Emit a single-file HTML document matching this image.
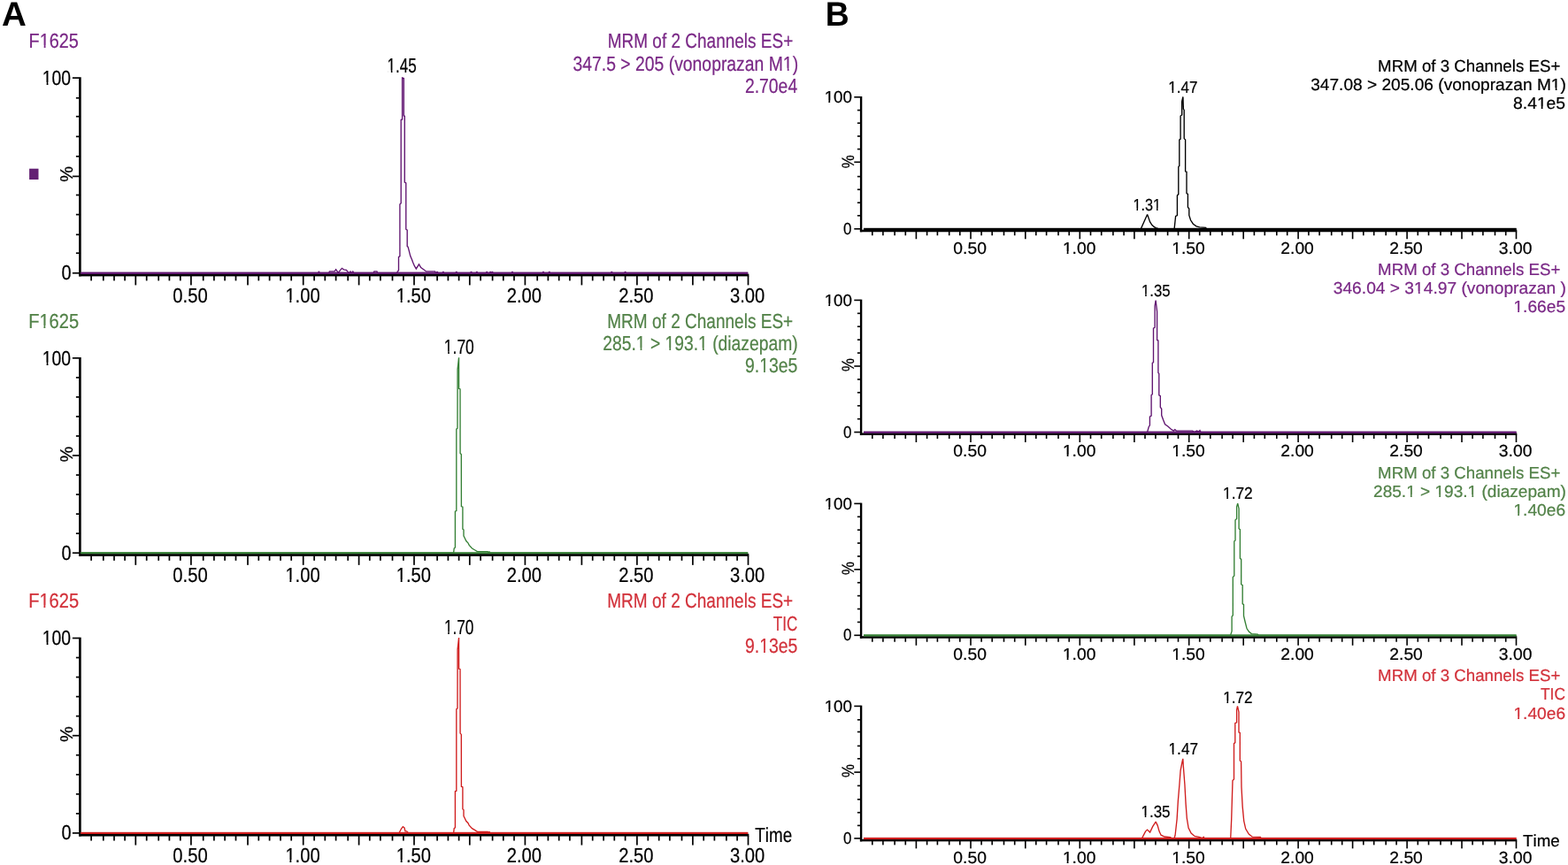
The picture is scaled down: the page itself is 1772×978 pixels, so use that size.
<!DOCTYPE html>
<html><head><meta charset="utf-8"><title>Chromatograms</title>
<style>
html,body{margin:0;padding:0;background:#fff;width:1772px;height:978px;overflow:hidden}
svg{display:block}
text{font-family:"Liberation Sans",Arial,sans-serif;font-kerning:none;white-space:pre;text-rendering:geometricPrecision}
</style></head><body>
<svg width="1772" height="978" viewBox="0 0 1772 978">
<rect width="100%" height="100%" fill="#fff"/>
<text x="1.9" y="29.3" font-size="38.5" font-weight="bold" fill="#000">A</text>
<text transform="translate(932.8,29.0) scale(0.97,1)" font-size="38.5" font-weight="bold" fill="#000">B</text>
<rect x="89.10" y="87.25" width="2.60" height="225.15" fill="#000"/>
<rect x="89.10" y="309.65" width="757.25" height="2.75" fill="#000"/>
<rect x="102.25" y="311.90" width="1.70" height="5.50" fill="#000"/>
<rect x="115.95" y="311.90" width="1.70" height="5.50" fill="#000"/>
<rect x="128.15" y="311.90" width="1.70" height="5.50" fill="#000"/>
<rect x="140.25" y="311.90" width="1.70" height="5.50" fill="#000"/>
<rect x="152.45" y="311.90" width="1.70" height="10.50" fill="#000"/>
<rect x="164.85" y="311.90" width="1.70" height="5.50" fill="#000"/>
<rect x="178.35" y="311.90" width="1.70" height="5.50" fill="#000"/>
<rect x="190.55" y="311.90" width="1.70" height="5.50" fill="#000"/>
<rect x="202.95" y="311.90" width="1.70" height="5.50" fill="#000"/>
<rect x="215.05" y="311.90" width="1.70" height="10.50" fill="#000"/>
<rect x="228.85" y="311.90" width="1.70" height="5.50" fill="#000"/>
<rect x="241.05" y="311.90" width="1.70" height="5.50" fill="#000"/>
<rect x="253.25" y="311.90" width="1.70" height="5.50" fill="#000"/>
<rect x="265.65" y="311.90" width="1.70" height="5.50" fill="#000"/>
<rect x="279.15" y="311.90" width="1.70" height="10.50" fill="#000"/>
<rect x="291.45" y="311.90" width="1.70" height="5.50" fill="#000"/>
<rect x="303.75" y="311.90" width="1.70" height="5.50" fill="#000"/>
<rect x="316.15" y="311.90" width="1.70" height="5.50" fill="#000"/>
<rect x="328.35" y="311.90" width="1.70" height="5.50" fill="#000"/>
<rect x="341.85" y="311.90" width="1.70" height="10.50" fill="#000"/>
<rect x="354.25" y="311.90" width="1.70" height="5.50" fill="#000"/>
<rect x="366.45" y="311.90" width="1.70" height="5.50" fill="#000"/>
<rect x="378.75" y="311.90" width="1.70" height="5.50" fill="#000"/>
<rect x="392.35" y="311.90" width="1.70" height="5.50" fill="#000"/>
<rect x="404.75" y="311.90" width="1.70" height="10.50" fill="#000"/>
<rect x="416.95" y="311.90" width="1.70" height="5.50" fill="#000"/>
<rect x="429.05" y="311.90" width="1.70" height="5.50" fill="#000"/>
<rect x="442.65" y="311.90" width="1.70" height="5.50" fill="#000"/>
<rect x="455.05" y="311.90" width="1.70" height="5.50" fill="#000"/>
<rect x="467.15" y="311.90" width="1.70" height="10.50" fill="#000"/>
<rect x="479.35" y="311.90" width="1.70" height="5.50" fill="#000"/>
<rect x="493.25" y="311.90" width="1.70" height="5.50" fill="#000"/>
<rect x="505.55" y="311.90" width="1.70" height="5.50" fill="#000"/>
<rect x="517.75" y="311.90" width="1.70" height="5.50" fill="#000"/>
<rect x="529.95" y="311.90" width="1.70" height="10.50" fill="#000"/>
<rect x="542.25" y="311.90" width="1.70" height="5.50" fill="#000"/>
<rect x="555.75" y="311.90" width="1.70" height="5.50" fill="#000"/>
<rect x="567.95" y="311.90" width="1.70" height="5.50" fill="#000"/>
<rect x="580.15" y="311.90" width="1.70" height="5.50" fill="#000"/>
<rect x="592.55" y="311.90" width="1.70" height="10.50" fill="#000"/>
<rect x="606.35" y="311.90" width="1.70" height="5.50" fill="#000"/>
<rect x="618.55" y="311.90" width="1.70" height="5.50" fill="#000"/>
<rect x="630.85" y="311.90" width="1.70" height="5.50" fill="#000"/>
<rect x="643.05" y="311.90" width="1.70" height="5.50" fill="#000"/>
<rect x="656.55" y="311.90" width="1.70" height="10.50" fill="#000"/>
<rect x="668.85" y="311.90" width="1.70" height="5.50" fill="#000"/>
<rect x="681.25" y="311.90" width="1.70" height="5.50" fill="#000"/>
<rect x="693.45" y="311.90" width="1.70" height="5.50" fill="#000"/>
<rect x="705.75" y="311.90" width="1.70" height="5.50" fill="#000"/>
<rect x="719.05" y="311.90" width="1.70" height="10.50" fill="#000"/>
<rect x="731.45" y="311.90" width="1.70" height="5.50" fill="#000"/>
<rect x="743.85" y="311.90" width="1.70" height="5.50" fill="#000"/>
<rect x="756.05" y="311.90" width="1.70" height="5.50" fill="#000"/>
<rect x="769.65" y="311.90" width="1.70" height="5.50" fill="#000"/>
<rect x="782.05" y="311.90" width="1.70" height="10.50" fill="#000"/>
<rect x="794.35" y="311.90" width="1.70" height="5.50" fill="#000"/>
<rect x="806.55" y="311.90" width="1.70" height="5.50" fill="#000"/>
<rect x="820.05" y="311.90" width="1.70" height="5.50" fill="#000"/>
<rect x="832.25" y="311.90" width="1.70" height="5.50" fill="#000"/>
<rect x="844.65" y="311.90" width="1.70" height="10.50" fill="#000"/>
<rect x="81.90" y="87.25" width="7.70" height="1.70" fill="#000"/>
<rect x="85.90" y="109.95" width="3.70" height="1.70" fill="#000"/>
<rect x="85.90" y="130.85" width="3.70" height="1.70" fill="#000"/>
<rect x="85.90" y="153.55" width="3.70" height="1.70" fill="#000"/>
<rect x="85.90" y="175.95" width="3.70" height="1.70" fill="#000"/>
<rect x="81.90" y="198.55" width="7.70" height="1.70" fill="#000"/>
<rect x="85.90" y="219.65" width="3.70" height="1.70" fill="#000"/>
<rect x="85.90" y="241.75" width="3.70" height="1.70" fill="#000"/>
<rect x="85.90" y="264.45" width="3.70" height="1.70" fill="#000"/>
<rect x="85.90" y="285.35" width="3.70" height="1.70" fill="#000"/>
<rect x="81.90" y="307.90" width="7.70" height="1.70" fill="#000"/>
<text transform="translate(195.36,341.70) scale(0.8700,1)" font-size="23.2" fill="#000" stroke="#000" stroke-width="0.22">0.50</text>
<text transform="translate(322.38,341.70) scale(0.8700,1)" font-size="23.2" fill="#000" stroke="#000" stroke-width="0.22">1.00</text>
<rect x="323.14" y="338.97" width="4.28" height="3.73" fill="#fff"/>
<rect x="329.29" y="338.97" width="4.12" height="3.73" fill="#fff"/>
<text transform="translate(447.68,341.70) scale(0.8700,1)" font-size="23.2" fill="#000" stroke="#000" stroke-width="0.22">1.50</text>
<rect x="448.44" y="338.97" width="4.28" height="3.73" fill="#fff"/>
<rect x="454.59" y="338.97" width="4.12" height="3.73" fill="#fff"/>
<text transform="translate(572.74,341.70) scale(0.8700,1)" font-size="23.2" fill="#000" stroke="#000" stroke-width="0.22">2.00</text>
<text transform="translate(699.24,341.70) scale(0.8700,1)" font-size="23.2" fill="#000" stroke="#000" stroke-width="0.22">2.50</text>
<text transform="translate(824.97,341.70) scale(0.8700,1)" font-size="23.2" fill="#000" stroke="#000" stroke-width="0.22">3.00</text>
<text transform="translate(82.00,196.80) rotate(-90) scale(1.0,1)" font-size="20.0" text-anchor="middle" fill="#000" stroke="#000" stroke-width="0.22">%</text>
<text transform="translate(47.82,95.80) scale(0.8353,1)" font-size="23.2" fill="#000" stroke="#000" stroke-width="0.22">100</text>
<rect x="48.55" y="93.07" width="4.11" height="3.73" fill="#fff"/>
<rect x="54.45" y="93.07" width="3.96" height="3.73" fill="#fff"/>
<text transform="translate(69.42,316.10) scale(0.8566,1)" font-size="23.2" fill="#000" stroke="#000" stroke-width="0.22">0</text>
<rect x="89.10" y="404.00" width="2.60" height="224.85" fill="#000"/>
<rect x="89.10" y="626.10" width="757.25" height="2.75" fill="#000"/>
<rect x="102.25" y="628.35" width="1.70" height="5.50" fill="#000"/>
<rect x="115.95" y="628.35" width="1.70" height="5.50" fill="#000"/>
<rect x="128.15" y="628.35" width="1.70" height="5.50" fill="#000"/>
<rect x="140.25" y="628.35" width="1.70" height="5.50" fill="#000"/>
<rect x="152.45" y="628.35" width="1.70" height="10.50" fill="#000"/>
<rect x="164.85" y="628.35" width="1.70" height="5.50" fill="#000"/>
<rect x="178.35" y="628.35" width="1.70" height="5.50" fill="#000"/>
<rect x="190.55" y="628.35" width="1.70" height="5.50" fill="#000"/>
<rect x="202.95" y="628.35" width="1.70" height="5.50" fill="#000"/>
<rect x="215.05" y="628.35" width="1.70" height="10.50" fill="#000"/>
<rect x="228.85" y="628.35" width="1.70" height="5.50" fill="#000"/>
<rect x="241.05" y="628.35" width="1.70" height="5.50" fill="#000"/>
<rect x="253.25" y="628.35" width="1.70" height="5.50" fill="#000"/>
<rect x="265.65" y="628.35" width="1.70" height="5.50" fill="#000"/>
<rect x="279.15" y="628.35" width="1.70" height="10.50" fill="#000"/>
<rect x="291.45" y="628.35" width="1.70" height="5.50" fill="#000"/>
<rect x="303.75" y="628.35" width="1.70" height="5.50" fill="#000"/>
<rect x="316.15" y="628.35" width="1.70" height="5.50" fill="#000"/>
<rect x="328.35" y="628.35" width="1.70" height="5.50" fill="#000"/>
<rect x="341.85" y="628.35" width="1.70" height="10.50" fill="#000"/>
<rect x="354.25" y="628.35" width="1.70" height="5.50" fill="#000"/>
<rect x="366.45" y="628.35" width="1.70" height="5.50" fill="#000"/>
<rect x="378.75" y="628.35" width="1.70" height="5.50" fill="#000"/>
<rect x="392.35" y="628.35" width="1.70" height="5.50" fill="#000"/>
<rect x="404.75" y="628.35" width="1.70" height="10.50" fill="#000"/>
<rect x="416.95" y="628.35" width="1.70" height="5.50" fill="#000"/>
<rect x="429.05" y="628.35" width="1.70" height="5.50" fill="#000"/>
<rect x="442.65" y="628.35" width="1.70" height="5.50" fill="#000"/>
<rect x="455.05" y="628.35" width="1.70" height="5.50" fill="#000"/>
<rect x="467.15" y="628.35" width="1.70" height="10.50" fill="#000"/>
<rect x="479.35" y="628.35" width="1.70" height="5.50" fill="#000"/>
<rect x="493.25" y="628.35" width="1.70" height="5.50" fill="#000"/>
<rect x="505.55" y="628.35" width="1.70" height="5.50" fill="#000"/>
<rect x="517.75" y="628.35" width="1.70" height="5.50" fill="#000"/>
<rect x="529.95" y="628.35" width="1.70" height="10.50" fill="#000"/>
<rect x="542.25" y="628.35" width="1.70" height="5.50" fill="#000"/>
<rect x="555.75" y="628.35" width="1.70" height="5.50" fill="#000"/>
<rect x="567.95" y="628.35" width="1.70" height="5.50" fill="#000"/>
<rect x="580.15" y="628.35" width="1.70" height="5.50" fill="#000"/>
<rect x="592.55" y="628.35" width="1.70" height="10.50" fill="#000"/>
<rect x="606.35" y="628.35" width="1.70" height="5.50" fill="#000"/>
<rect x="618.55" y="628.35" width="1.70" height="5.50" fill="#000"/>
<rect x="630.85" y="628.35" width="1.70" height="5.50" fill="#000"/>
<rect x="643.05" y="628.35" width="1.70" height="5.50" fill="#000"/>
<rect x="656.55" y="628.35" width="1.70" height="10.50" fill="#000"/>
<rect x="668.85" y="628.35" width="1.70" height="5.50" fill="#000"/>
<rect x="681.25" y="628.35" width="1.70" height="5.50" fill="#000"/>
<rect x="693.45" y="628.35" width="1.70" height="5.50" fill="#000"/>
<rect x="705.75" y="628.35" width="1.70" height="5.50" fill="#000"/>
<rect x="719.05" y="628.35" width="1.70" height="10.50" fill="#000"/>
<rect x="731.45" y="628.35" width="1.70" height="5.50" fill="#000"/>
<rect x="743.85" y="628.35" width="1.70" height="5.50" fill="#000"/>
<rect x="756.05" y="628.35" width="1.70" height="5.50" fill="#000"/>
<rect x="769.65" y="628.35" width="1.70" height="5.50" fill="#000"/>
<rect x="782.05" y="628.35" width="1.70" height="10.50" fill="#000"/>
<rect x="794.35" y="628.35" width="1.70" height="5.50" fill="#000"/>
<rect x="806.55" y="628.35" width="1.70" height="5.50" fill="#000"/>
<rect x="820.05" y="628.35" width="1.70" height="5.50" fill="#000"/>
<rect x="832.25" y="628.35" width="1.70" height="5.50" fill="#000"/>
<rect x="844.65" y="628.35" width="1.70" height="10.50" fill="#000"/>
<rect x="81.90" y="404.00" width="7.70" height="1.70" fill="#000"/>
<rect x="85.90" y="426.04" width="3.70" height="1.70" fill="#000"/>
<rect x="85.90" y="448.07" width="3.70" height="1.70" fill="#000"/>
<rect x="85.90" y="470.11" width="3.70" height="1.70" fill="#000"/>
<rect x="85.90" y="492.14" width="3.70" height="1.70" fill="#000"/>
<rect x="81.90" y="514.17" width="7.70" height="1.70" fill="#000"/>
<rect x="85.90" y="536.21" width="3.70" height="1.70" fill="#000"/>
<rect x="85.90" y="558.25" width="3.70" height="1.70" fill="#000"/>
<rect x="85.90" y="580.28" width="3.70" height="1.70" fill="#000"/>
<rect x="85.90" y="602.31" width="3.70" height="1.70" fill="#000"/>
<rect x="81.90" y="624.35" width="7.70" height="1.70" fill="#000"/>
<text transform="translate(195.36,658.15) scale(0.8700,1)" font-size="23.2" fill="#000" stroke="#000" stroke-width="0.22">0.50</text>
<text transform="translate(322.38,658.15) scale(0.8700,1)" font-size="23.2" fill="#000" stroke="#000" stroke-width="0.22">1.00</text>
<rect x="323.14" y="655.42" width="4.28" height="3.73" fill="#fff"/>
<rect x="329.29" y="655.42" width="4.12" height="3.73" fill="#fff"/>
<text transform="translate(447.68,658.15) scale(0.8700,1)" font-size="23.2" fill="#000" stroke="#000" stroke-width="0.22">1.50</text>
<rect x="448.44" y="655.42" width="4.28" height="3.73" fill="#fff"/>
<rect x="454.59" y="655.42" width="4.12" height="3.73" fill="#fff"/>
<text transform="translate(572.74,658.15) scale(0.8700,1)" font-size="23.2" fill="#000" stroke="#000" stroke-width="0.22">2.00</text>
<text transform="translate(699.24,658.15) scale(0.8700,1)" font-size="23.2" fill="#000" stroke="#000" stroke-width="0.22">2.50</text>
<text transform="translate(824.97,658.15) scale(0.8700,1)" font-size="23.2" fill="#000" stroke="#000" stroke-width="0.22">3.00</text>
<text transform="translate(82.00,513.55) rotate(-90) scale(1.0,1)" font-size="20.0" text-anchor="middle" fill="#000" stroke="#000" stroke-width="0.22">%</text>
<text transform="translate(47.82,412.55) scale(0.8353,1)" font-size="23.2" fill="#000" stroke="#000" stroke-width="0.22">100</text>
<rect x="48.55" y="409.82" width="4.11" height="3.73" fill="#fff"/>
<rect x="54.45" y="409.82" width="3.96" height="3.73" fill="#fff"/>
<text transform="translate(69.42,632.55) scale(0.8566,1)" font-size="23.2" fill="#000" stroke="#000" stroke-width="0.22">0</text>
<rect x="89.10" y="720.65" width="2.60" height="224.90" fill="#000"/>
<rect x="89.10" y="942.80" width="757.25" height="2.75" fill="#000"/>
<rect x="102.25" y="945.05" width="1.70" height="5.50" fill="#000"/>
<rect x="115.95" y="945.05" width="1.70" height="5.50" fill="#000"/>
<rect x="128.15" y="945.05" width="1.70" height="5.50" fill="#000"/>
<rect x="140.25" y="945.05" width="1.70" height="5.50" fill="#000"/>
<rect x="152.45" y="945.05" width="1.70" height="10.50" fill="#000"/>
<rect x="164.85" y="945.05" width="1.70" height="5.50" fill="#000"/>
<rect x="178.35" y="945.05" width="1.70" height="5.50" fill="#000"/>
<rect x="190.55" y="945.05" width="1.70" height="5.50" fill="#000"/>
<rect x="202.95" y="945.05" width="1.70" height="5.50" fill="#000"/>
<rect x="215.05" y="945.05" width="1.70" height="10.50" fill="#000"/>
<rect x="228.85" y="945.05" width="1.70" height="5.50" fill="#000"/>
<rect x="241.05" y="945.05" width="1.70" height="5.50" fill="#000"/>
<rect x="253.25" y="945.05" width="1.70" height="5.50" fill="#000"/>
<rect x="265.65" y="945.05" width="1.70" height="5.50" fill="#000"/>
<rect x="279.15" y="945.05" width="1.70" height="10.50" fill="#000"/>
<rect x="291.45" y="945.05" width="1.70" height="5.50" fill="#000"/>
<rect x="303.75" y="945.05" width="1.70" height="5.50" fill="#000"/>
<rect x="316.15" y="945.05" width="1.70" height="5.50" fill="#000"/>
<rect x="328.35" y="945.05" width="1.70" height="5.50" fill="#000"/>
<rect x="341.85" y="945.05" width="1.70" height="10.50" fill="#000"/>
<rect x="354.25" y="945.05" width="1.70" height="5.50" fill="#000"/>
<rect x="366.45" y="945.05" width="1.70" height="5.50" fill="#000"/>
<rect x="378.75" y="945.05" width="1.70" height="5.50" fill="#000"/>
<rect x="392.35" y="945.05" width="1.70" height="5.50" fill="#000"/>
<rect x="404.75" y="945.05" width="1.70" height="10.50" fill="#000"/>
<rect x="416.95" y="945.05" width="1.70" height="5.50" fill="#000"/>
<rect x="429.05" y="945.05" width="1.70" height="5.50" fill="#000"/>
<rect x="442.65" y="945.05" width="1.70" height="5.50" fill="#000"/>
<rect x="455.05" y="945.05" width="1.70" height="5.50" fill="#000"/>
<rect x="467.15" y="945.05" width="1.70" height="10.50" fill="#000"/>
<rect x="479.35" y="945.05" width="1.70" height="5.50" fill="#000"/>
<rect x="493.25" y="945.05" width="1.70" height="5.50" fill="#000"/>
<rect x="505.55" y="945.05" width="1.70" height="5.50" fill="#000"/>
<rect x="517.75" y="945.05" width="1.70" height="5.50" fill="#000"/>
<rect x="529.95" y="945.05" width="1.70" height="10.50" fill="#000"/>
<rect x="542.25" y="945.05" width="1.70" height="5.50" fill="#000"/>
<rect x="555.75" y="945.05" width="1.70" height="5.50" fill="#000"/>
<rect x="567.95" y="945.05" width="1.70" height="5.50" fill="#000"/>
<rect x="580.15" y="945.05" width="1.70" height="5.50" fill="#000"/>
<rect x="592.55" y="945.05" width="1.70" height="10.50" fill="#000"/>
<rect x="606.35" y="945.05" width="1.70" height="5.50" fill="#000"/>
<rect x="618.55" y="945.05" width="1.70" height="5.50" fill="#000"/>
<rect x="630.85" y="945.05" width="1.70" height="5.50" fill="#000"/>
<rect x="643.05" y="945.05" width="1.70" height="5.50" fill="#000"/>
<rect x="656.55" y="945.05" width="1.70" height="10.50" fill="#000"/>
<rect x="668.85" y="945.05" width="1.70" height="5.50" fill="#000"/>
<rect x="681.25" y="945.05" width="1.70" height="5.50" fill="#000"/>
<rect x="693.45" y="945.05" width="1.70" height="5.50" fill="#000"/>
<rect x="705.75" y="945.05" width="1.70" height="5.50" fill="#000"/>
<rect x="719.05" y="945.05" width="1.70" height="10.50" fill="#000"/>
<rect x="731.45" y="945.05" width="1.70" height="5.50" fill="#000"/>
<rect x="743.85" y="945.05" width="1.70" height="5.50" fill="#000"/>
<rect x="756.05" y="945.05" width="1.70" height="5.50" fill="#000"/>
<rect x="769.65" y="945.05" width="1.70" height="5.50" fill="#000"/>
<rect x="782.05" y="945.05" width="1.70" height="10.50" fill="#000"/>
<rect x="794.35" y="945.05" width="1.70" height="5.50" fill="#000"/>
<rect x="806.55" y="945.05" width="1.70" height="5.50" fill="#000"/>
<rect x="820.05" y="945.05" width="1.70" height="5.50" fill="#000"/>
<rect x="832.25" y="945.05" width="1.70" height="5.50" fill="#000"/>
<rect x="844.65" y="945.05" width="1.70" height="10.50" fill="#000"/>
<rect x="81.90" y="720.65" width="7.70" height="1.70" fill="#000"/>
<rect x="85.90" y="742.69" width="3.70" height="1.70" fill="#000"/>
<rect x="85.90" y="764.73" width="3.70" height="1.70" fill="#000"/>
<rect x="85.90" y="786.77" width="3.70" height="1.70" fill="#000"/>
<rect x="85.90" y="808.81" width="3.70" height="1.70" fill="#000"/>
<rect x="81.90" y="830.85" width="7.70" height="1.70" fill="#000"/>
<rect x="85.90" y="852.89" width="3.70" height="1.70" fill="#000"/>
<rect x="85.90" y="874.93" width="3.70" height="1.70" fill="#000"/>
<rect x="85.90" y="896.97" width="3.70" height="1.70" fill="#000"/>
<rect x="85.90" y="919.01" width="3.70" height="1.70" fill="#000"/>
<rect x="81.90" y="941.05" width="7.70" height="1.70" fill="#000"/>
<text transform="translate(195.36,974.85) scale(0.8700,1)" font-size="23.2" fill="#000" stroke="#000" stroke-width="0.22">0.50</text>
<text transform="translate(322.38,974.85) scale(0.8700,1)" font-size="23.2" fill="#000" stroke="#000" stroke-width="0.22">1.00</text>
<rect x="323.14" y="972.12" width="4.28" height="3.73" fill="#fff"/>
<rect x="329.29" y="972.12" width="4.12" height="3.73" fill="#fff"/>
<text transform="translate(447.68,974.85) scale(0.8700,1)" font-size="23.2" fill="#000" stroke="#000" stroke-width="0.22">1.50</text>
<rect x="448.44" y="972.12" width="4.28" height="3.73" fill="#fff"/>
<rect x="454.59" y="972.12" width="4.12" height="3.73" fill="#fff"/>
<text transform="translate(572.74,974.85) scale(0.8700,1)" font-size="23.2" fill="#000" stroke="#000" stroke-width="0.22">2.00</text>
<text transform="translate(699.24,974.85) scale(0.8700,1)" font-size="23.2" fill="#000" stroke="#000" stroke-width="0.22">2.50</text>
<text transform="translate(824.97,974.85) scale(0.8700,1)" font-size="23.2" fill="#000" stroke="#000" stroke-width="0.22">3.00</text>
<text transform="translate(82.00,830.20) rotate(-90) scale(1.0,1)" font-size="20.0" text-anchor="middle" fill="#000" stroke="#000" stroke-width="0.22">%</text>
<text transform="translate(47.82,729.20) scale(0.8353,1)" font-size="23.2" fill="#000" stroke="#000" stroke-width="0.22">100</text>
<rect x="48.55" y="726.47" width="4.11" height="3.73" fill="#fff"/>
<rect x="54.45" y="726.47" width="3.96" height="3.73" fill="#fff"/>
<text transform="translate(69.42,949.25) scale(0.8566,1)" font-size="23.2" fill="#000" stroke="#000" stroke-width="0.22">0</text>
<text transform="translate(32.57,54.10) scale(0.8568,1)" font-size="23.2" fill="#7a2886" stroke="#7a2886" stroke-width="0.22">F1625</text>
<rect x="45.46" y="51.37" width="4.21" height="3.73" fill="#fff"/>
<rect x="51.51" y="51.37" width="4.06" height="3.73" fill="#fff"/>
<text transform="translate(686.74,54.10) scale(0.8189,1)" font-size="23.2" fill="#7a2886" stroke="#7a2886" stroke-width="0.22">MRM of 2 Channels ES+</text>
<text transform="translate(647.46,79.60) scale(0.8352,1)" font-size="23.2" fill="#7a2886" stroke="#7a2886" stroke-width="0.22">347.5 &gt; 205 (vonoprazan M1)</text>
<rect x="885.70" y="76.87" width="4.11" height="3.73" fill="#fff"/>
<rect x="891.60" y="76.87" width="3.95" height="3.73" fill="#fff"/>
<text transform="translate(841.93,105.40) scale(0.8349,1)" font-size="23.2" fill="#7a2886" stroke="#7a2886" stroke-width="0.22">2.70e4</text>
<text transform="translate(437.60,82.30) scale(0.7333,1)" font-size="23.2" fill="#000" stroke="#000" stroke-width="0.22">1.45</text>
<rect x="438.24" y="79.57" width="3.61" height="3.73" fill="#fff"/>
<rect x="443.42" y="79.57" width="3.47" height="3.73" fill="#fff"/>
<rect x="33.10" y="190.70" width="10.40" height="12.30" fill="#632073"/>
<text transform="translate(32.15,370.70) scale(0.8664,1)" font-size="23.2" fill="#528248" stroke="#528248" stroke-width="0.22">F1625</text>
<rect x="45.18" y="367.97" width="4.26" height="3.73" fill="#fff"/>
<rect x="51.30" y="367.97" width="4.10" height="3.73" fill="#fff"/>
<text transform="translate(686.24,370.70) scale(0.8208,1)" font-size="23.2" fill="#528248" stroke="#528248" stroke-width="0.22">MRM of 2 Channels ES+</text>
<text transform="translate(681.23,396.10) scale(0.8322,1)" font-size="23.2" fill="#528248" stroke="#528248" stroke-width="0.22">285.1 &gt; 193.1 (diazepam)</text>
<rect x="719.53" y="393.37" width="4.09" height="3.73" fill="#fff"/>
<rect x="725.41" y="393.37" width="3.94" height="3.73" fill="#fff"/>
<rect x="752.27" y="393.37" width="4.09" height="3.73" fill="#fff"/>
<rect x="758.15" y="393.37" width="3.94" height="3.73" fill="#fff"/>
<rect x="789.84" y="393.37" width="4.09" height="3.73" fill="#fff"/>
<rect x="795.73" y="393.37" width="3.94" height="3.73" fill="#fff"/>
<text transform="translate(841.99,421.30) scale(0.8375,1)" font-size="23.2" fill="#528248" stroke="#528248" stroke-width="0.22">9.13e5</text>
<rect x="858.92" y="418.57" width="4.12" height="3.73" fill="#fff"/>
<rect x="864.84" y="418.57" width="3.97" height="3.73" fill="#fff"/>
<text transform="translate(501.87,399.70) scale(0.7509,1)" font-size="23.2" fill="#000" stroke="#000" stroke-width="0.22">1.70</text>
<rect x="502.52" y="396.97" width="3.69" height="3.73" fill="#fff"/>
<rect x="507.83" y="396.97" width="3.56" height="3.73" fill="#fff"/>
<text transform="translate(32.15,687.20) scale(0.8664,1)" font-size="23.2" fill="#d2313a" stroke="#d2313a" stroke-width="0.22">F1625</text>
<rect x="45.18" y="684.47" width="4.26" height="3.73" fill="#fff"/>
<rect x="51.30" y="684.47" width="4.10" height="3.73" fill="#fff"/>
<text transform="translate(686.24,687.30) scale(0.8208,1)" font-size="23.2" fill="#d2313a" stroke="#d2313a" stroke-width="0.22">MRM of 2 Channels ES+</text>
<text transform="translate(873.82,712.70) scale(0.7340,1)" font-size="23.2" fill="#d2313a" stroke="#d2313a" stroke-width="0.22">TIC</text>
<text transform="translate(841.99,738.00) scale(0.8375,1)" font-size="23.2" fill="#d2313a" stroke="#d2313a" stroke-width="0.22">9.13e5</text>
<rect x="858.92" y="735.27" width="4.12" height="3.73" fill="#fff"/>
<rect x="864.84" y="735.27" width="3.97" height="3.73" fill="#fff"/>
<text transform="translate(501.89,716.50) scale(0.7439,1)" font-size="23.2" fill="#000" stroke="#000" stroke-width="0.22">1.70</text>
<rect x="502.53" y="713.77" width="3.66" height="3.73" fill="#fff"/>
<rect x="507.79" y="713.77" width="3.52" height="3.73" fill="#fff"/>
<text transform="translate(853.28,952.40) scale(0.8120,1)" font-size="23.2" fill="#000" stroke="#000" stroke-width="0.22">Time</text>
<rect x="91.70" y="307.55" width="753.60" height="2.30" fill="#601470"/>
<rect x="91.70" y="624.20" width="753.60" height="2.00" fill="#358035"/>
<rect x="91.70" y="940.80" width="753.60" height="2.20" fill="#d01e1e"/>
<polyline points="90.80,308.90 359.00,308.90 359.60,308.90 360.40,306.80 361.20,308.90 371.60,308.90 372.40,306.80 378.00,306.80 379.60,304.60 382.30,308.40 384.20,305.80 386.40,303.30 388.60,304.90 391.50,305.40 393.30,307.60 394.60,308.90 396.00,307.00 397.20,308.90 398.80,307.00 400.00,308.90 422.00,308.90 422.80,306.90 426.00,306.90 426.80,308.90 447.80,308.90 448.80,307.90 450.50,305.50 450.50,290.60 451.90,289.60 451.90,231.00 453.20,229.70 453.20,135.50 454.60,135.00 454.60,88.00 456.30,88.50 456.30,131.00 457.30,131.20 457.30,206.10 458.80,207.00 458.80,259.20 460.20,260.10 460.20,278.50 461.10,279.20 462.40,284.20 463.70,289.30 465.60,293.70 466.80,296.90 468.40,300.70 470.30,303.90 473.50,298.80 475.70,302.60 479.50,305.20 481.60,306.90 491.60,306.90 492.60,308.90 492.60,308.90 493.20,308.90 494.10,307.00 495.00,308.90 500.00,308.90 500.90,307.00 501.80,308.90 514.90,308.90 515.80,307.00 516.70,308.90 531.60,308.90 532.50,307.00 533.40,308.90 538.00,308.90 538.90,307.00 539.80,308.90 549.30,308.90 550.20,307.00 551.10,308.90 553.30,308.90 554.20,307.00 555.10,308.90 555.50,308.90 556.40,307.00 557.30,308.90 578.10,308.90 579.00,307.00 579.90,308.90 613.10,308.90 614.00,307.00 614.90,308.90 619.90,308.90 620.80,307.00 621.70,308.90 690.40,308.90 691.30,307.00 692.20,308.90 705.70,308.90 706.60,307.00 707.50,308.90 845.20,308.90" fill="none" stroke="#601470" stroke-width="1.35" stroke-linejoin="miter" stroke-miterlimit="2" stroke-linecap="butt"/>
<polyline points="90.80,625.20 512.00,625.20 512.60,625.20 513.20,620.00 514.40,619.00 514.40,578.10 515.80,577.50 515.80,485.10 517.00,484.20 517.10,417.50 518.55,404.30 518.60,439.30 520.00,439.90 520.10,512.40 521.30,513.70 521.40,572.50 522.90,573.20 522.90,598.10 524.00,599.00 524.00,605.90 525.30,608.50 526.90,611.80 528.90,613.80 530.20,616.40 533.50,620.00 536.80,622.00 539.40,623.60 551.20,623.60 552.10,625.20 553.00,623.60 553.90,625.20 554.00,625.20 845.20,625.20" fill="none" stroke="#358035" stroke-width="1.35" stroke-linejoin="miter" stroke-miterlimit="2" stroke-linecap="butt"/>
<polyline points="90.80,941.90 451.00,941.90 451.00,941.90 453.50,937.00 455.30,934.60 457.00,936.00 458.00,939.80 459.70,939.80 461.60,941.90 512.00,941.90 512.60,941.90 513.20,936.70 514.40,935.70 514.40,894.80 515.80,894.20 515.80,801.80 517.00,800.90 517.10,734.20 518.55,721.00 518.60,756.00 520.00,756.60 520.10,829.10 521.30,830.40 521.40,889.20 522.90,889.90 522.90,914.80 524.00,915.70 524.00,922.60 525.30,925.20 526.90,928.50 528.90,930.50 530.20,933.10 533.50,936.70 536.80,938.70 539.40,940.30 551.20,940.30 552.10,941.90 553.00,940.30 553.90,941.90 554.00,941.90 845.20,941.90" fill="none" stroke="#d01e1e" stroke-width="1.35" stroke-linejoin="miter" stroke-miterlimit="2" stroke-linecap="butt"/>
<rect x="971.90" y="109.00" width="2.40" height="153.25" fill="#000"/>
<rect x="971.90" y="259.70" width="742.40" height="2.55" fill="#000"/>
<rect x="985.00" y="261.75" width="1.60" height="4.50" fill="#000"/>
<rect x="997.10" y="261.75" width="1.60" height="4.50" fill="#000"/>
<rect x="1010.30" y="261.75" width="1.60" height="4.50" fill="#000"/>
<rect x="1022.50" y="261.75" width="1.60" height="4.50" fill="#000"/>
<rect x="1034.60" y="261.75" width="1.60" height="8.50" fill="#000"/>
<rect x="1046.80" y="261.75" width="1.60" height="4.50" fill="#000"/>
<rect x="1058.60" y="261.75" width="1.60" height="4.50" fill="#000"/>
<rect x="1071.90" y="261.75" width="1.60" height="4.50" fill="#000"/>
<rect x="1084.00" y="261.75" width="1.60" height="4.50" fill="#000"/>
<rect x="1096.20" y="261.75" width="1.60" height="8.50" fill="#000"/>
<rect x="1108.30" y="261.75" width="1.60" height="4.50" fill="#000"/>
<rect x="1120.40" y="261.75" width="1.60" height="4.50" fill="#000"/>
<rect x="1133.70" y="261.75" width="1.60" height="4.50" fill="#000"/>
<rect x="1145.90" y="261.75" width="1.60" height="4.50" fill="#000"/>
<rect x="1158.00" y="261.75" width="1.60" height="8.50" fill="#000"/>
<rect x="1170.00" y="261.75" width="1.60" height="4.50" fill="#000"/>
<rect x="1181.80" y="261.75" width="1.60" height="4.50" fill="#000"/>
<rect x="1195.20" y="261.75" width="1.60" height="4.50" fill="#000"/>
<rect x="1207.40" y="261.75" width="1.60" height="4.50" fill="#000"/>
<rect x="1219.50" y="261.75" width="1.60" height="8.50" fill="#000"/>
<rect x="1231.70" y="261.75" width="1.60" height="4.50" fill="#000"/>
<rect x="1243.90" y="261.75" width="1.60" height="4.50" fill="#000"/>
<rect x="1257.10" y="261.75" width="1.60" height="4.50" fill="#000"/>
<rect x="1269.30" y="261.75" width="1.60" height="4.50" fill="#000"/>
<rect x="1281.10" y="261.75" width="1.60" height="8.50" fill="#000"/>
<rect x="1293.20" y="261.75" width="1.60" height="4.50" fill="#000"/>
<rect x="1305.10" y="261.75" width="1.60" height="4.50" fill="#000"/>
<rect x="1318.80" y="261.75" width="1.60" height="4.50" fill="#000"/>
<rect x="1330.70" y="261.75" width="1.60" height="4.50" fill="#000"/>
<rect x="1342.90" y="261.75" width="1.60" height="8.50" fill="#000"/>
<rect x="1354.90" y="261.75" width="1.60" height="4.50" fill="#000"/>
<rect x="1367.00" y="261.75" width="1.60" height="4.50" fill="#000"/>
<rect x="1380.30" y="261.75" width="1.60" height="4.50" fill="#000"/>
<rect x="1392.30" y="261.75" width="1.60" height="4.50" fill="#000"/>
<rect x="1404.40" y="261.75" width="1.60" height="8.50" fill="#000"/>
<rect x="1416.60" y="261.75" width="1.60" height="4.50" fill="#000"/>
<rect x="1428.50" y="261.75" width="1.60" height="4.50" fill="#000"/>
<rect x="1442.00" y="261.75" width="1.60" height="4.50" fill="#000"/>
<rect x="1453.90" y="261.75" width="1.60" height="4.50" fill="#000"/>
<rect x="1466.30" y="261.75" width="1.60" height="8.50" fill="#000"/>
<rect x="1478.10" y="261.75" width="1.60" height="4.50" fill="#000"/>
<rect x="1490.30" y="261.75" width="1.60" height="4.50" fill="#000"/>
<rect x="1503.90" y="261.75" width="1.60" height="4.50" fill="#000"/>
<rect x="1515.90" y="261.75" width="1.60" height="4.50" fill="#000"/>
<rect x="1527.80" y="261.75" width="1.60" height="8.50" fill="#000"/>
<rect x="1540.00" y="261.75" width="1.60" height="4.50" fill="#000"/>
<rect x="1551.90" y="261.75" width="1.60" height="4.50" fill="#000"/>
<rect x="1565.40" y="261.75" width="1.60" height="4.50" fill="#000"/>
<rect x="1577.30" y="261.75" width="1.60" height="4.50" fill="#000"/>
<rect x="1589.30" y="261.75" width="1.60" height="8.50" fill="#000"/>
<rect x="1601.50" y="261.75" width="1.60" height="4.50" fill="#000"/>
<rect x="1613.70" y="261.75" width="1.60" height="4.50" fill="#000"/>
<rect x="1627.20" y="261.75" width="1.60" height="4.50" fill="#000"/>
<rect x="1639.30" y="261.75" width="1.60" height="4.50" fill="#000"/>
<rect x="1651.20" y="261.75" width="1.60" height="8.50" fill="#000"/>
<rect x="1663.30" y="261.75" width="1.60" height="4.50" fill="#000"/>
<rect x="1675.10" y="261.75" width="1.60" height="4.50" fill="#000"/>
<rect x="1688.70" y="261.75" width="1.60" height="4.50" fill="#000"/>
<rect x="1700.90" y="261.75" width="1.60" height="4.50" fill="#000"/>
<rect x="1712.70" y="261.75" width="1.60" height="8.50" fill="#000"/>
<rect x="965.30" y="109.00" width="7.10" height="1.60" fill="#000"/>
<rect x="968.90" y="123.80" width="3.50" height="1.60" fill="#000"/>
<rect x="968.90" y="138.40" width="3.50" height="1.60" fill="#000"/>
<rect x="968.90" y="153.20" width="3.50" height="1.60" fill="#000"/>
<rect x="968.90" y="167.80" width="3.50" height="1.60" fill="#000"/>
<rect x="965.30" y="182.50" width="7.10" height="1.60" fill="#000"/>
<rect x="968.90" y="198.80" width="3.50" height="1.60" fill="#000"/>
<rect x="968.90" y="213.50" width="3.50" height="1.60" fill="#000"/>
<rect x="968.90" y="228.40" width="3.50" height="1.60" fill="#000"/>
<rect x="968.90" y="243.00" width="3.50" height="1.60" fill="#000"/>
<rect x="965.30" y="258.00" width="7.10" height="1.60" fill="#000"/>
<text transform="translate(1077.34,286.60) scale(1.0200,1)" font-size="18.9" fill="#000" stroke="#000" stroke-width="0.22">0.50</text>
<text transform="translate(1200.88,286.60) scale(1.0200,1)" font-size="18.9" fill="#000" stroke="#000" stroke-width="0.22">1.00</text>
<rect x="1201.43" y="284.19" width="4.25" height="3.41" fill="#fff"/>
<rect x="1207.48" y="284.19" width="4.10" height="3.41" fill="#fff"/>
<text transform="translate(1324.28,286.60) scale(1.0200,1)" font-size="18.9" fill="#000" stroke="#000" stroke-width="0.22">1.50</text>
<rect x="1324.83" y="284.19" width="4.25" height="3.41" fill="#fff"/>
<rect x="1330.88" y="284.19" width="4.10" height="3.41" fill="#fff"/>
<text transform="translate(1447.33,286.60) scale(1.0200,1)" font-size="18.9" fill="#000" stroke="#000" stroke-width="0.22">2.00</text>
<text transform="translate(1570.33,286.60) scale(1.0200,1)" font-size="18.9" fill="#000" stroke="#000" stroke-width="0.22">2.50</text>
<text transform="translate(1693.85,286.60) scale(1.0200,1)" font-size="18.9" fill="#000" stroke="#000" stroke-width="0.22">3.00</text>
<text transform="translate(964.80,182.90) rotate(-90) scale(0.86,1)" font-size="19.5" text-anchor="middle" fill="#000" stroke="#000" stroke-width="0.22">%</text>
<text transform="translate(931.67,116.00) scale(0.9947,1)" font-size="18.9" fill="#000" stroke="#000" stroke-width="0.22">100</text>
<rect x="932.20" y="113.59" width="4.14" height="3.41" fill="#fff"/>
<rect x="938.11" y="113.59" width="3.99" height="3.41" fill="#fff"/>
<text transform="translate(952.94,264.80) scale(0.8965,1)" font-size="18.9" fill="#000" stroke="#000" stroke-width="0.22">0</text>
<rect x="971.90" y="338.60" width="2.40" height="153.45" fill="#000"/>
<rect x="971.90" y="489.50" width="742.40" height="2.55" fill="#000"/>
<rect x="985.00" y="491.55" width="1.60" height="4.50" fill="#000"/>
<rect x="997.10" y="491.55" width="1.60" height="4.50" fill="#000"/>
<rect x="1010.30" y="491.55" width="1.60" height="4.50" fill="#000"/>
<rect x="1022.50" y="491.55" width="1.60" height="4.50" fill="#000"/>
<rect x="1034.60" y="491.55" width="1.60" height="8.50" fill="#000"/>
<rect x="1046.80" y="491.55" width="1.60" height="4.50" fill="#000"/>
<rect x="1058.60" y="491.55" width="1.60" height="4.50" fill="#000"/>
<rect x="1071.90" y="491.55" width="1.60" height="4.50" fill="#000"/>
<rect x="1084.00" y="491.55" width="1.60" height="4.50" fill="#000"/>
<rect x="1096.20" y="491.55" width="1.60" height="8.50" fill="#000"/>
<rect x="1108.30" y="491.55" width="1.60" height="4.50" fill="#000"/>
<rect x="1120.40" y="491.55" width="1.60" height="4.50" fill="#000"/>
<rect x="1133.70" y="491.55" width="1.60" height="4.50" fill="#000"/>
<rect x="1145.90" y="491.55" width="1.60" height="4.50" fill="#000"/>
<rect x="1158.00" y="491.55" width="1.60" height="8.50" fill="#000"/>
<rect x="1170.00" y="491.55" width="1.60" height="4.50" fill="#000"/>
<rect x="1181.80" y="491.55" width="1.60" height="4.50" fill="#000"/>
<rect x="1195.20" y="491.55" width="1.60" height="4.50" fill="#000"/>
<rect x="1207.40" y="491.55" width="1.60" height="4.50" fill="#000"/>
<rect x="1219.50" y="491.55" width="1.60" height="8.50" fill="#000"/>
<rect x="1231.70" y="491.55" width="1.60" height="4.50" fill="#000"/>
<rect x="1243.90" y="491.55" width="1.60" height="4.50" fill="#000"/>
<rect x="1257.10" y="491.55" width="1.60" height="4.50" fill="#000"/>
<rect x="1269.30" y="491.55" width="1.60" height="4.50" fill="#000"/>
<rect x="1281.10" y="491.55" width="1.60" height="8.50" fill="#000"/>
<rect x="1293.20" y="491.55" width="1.60" height="4.50" fill="#000"/>
<rect x="1305.10" y="491.55" width="1.60" height="4.50" fill="#000"/>
<rect x="1318.80" y="491.55" width="1.60" height="4.50" fill="#000"/>
<rect x="1330.70" y="491.55" width="1.60" height="4.50" fill="#000"/>
<rect x="1342.90" y="491.55" width="1.60" height="8.50" fill="#000"/>
<rect x="1354.90" y="491.55" width="1.60" height="4.50" fill="#000"/>
<rect x="1367.00" y="491.55" width="1.60" height="4.50" fill="#000"/>
<rect x="1380.30" y="491.55" width="1.60" height="4.50" fill="#000"/>
<rect x="1392.30" y="491.55" width="1.60" height="4.50" fill="#000"/>
<rect x="1404.40" y="491.55" width="1.60" height="8.50" fill="#000"/>
<rect x="1416.60" y="491.55" width="1.60" height="4.50" fill="#000"/>
<rect x="1428.50" y="491.55" width="1.60" height="4.50" fill="#000"/>
<rect x="1442.00" y="491.55" width="1.60" height="4.50" fill="#000"/>
<rect x="1453.90" y="491.55" width="1.60" height="4.50" fill="#000"/>
<rect x="1466.30" y="491.55" width="1.60" height="8.50" fill="#000"/>
<rect x="1478.10" y="491.55" width="1.60" height="4.50" fill="#000"/>
<rect x="1490.30" y="491.55" width="1.60" height="4.50" fill="#000"/>
<rect x="1503.90" y="491.55" width="1.60" height="4.50" fill="#000"/>
<rect x="1515.90" y="491.55" width="1.60" height="4.50" fill="#000"/>
<rect x="1527.80" y="491.55" width="1.60" height="8.50" fill="#000"/>
<rect x="1540.00" y="491.55" width="1.60" height="4.50" fill="#000"/>
<rect x="1551.90" y="491.55" width="1.60" height="4.50" fill="#000"/>
<rect x="1565.40" y="491.55" width="1.60" height="4.50" fill="#000"/>
<rect x="1577.30" y="491.55" width="1.60" height="4.50" fill="#000"/>
<rect x="1589.30" y="491.55" width="1.60" height="8.50" fill="#000"/>
<rect x="1601.50" y="491.55" width="1.60" height="4.50" fill="#000"/>
<rect x="1613.70" y="491.55" width="1.60" height="4.50" fill="#000"/>
<rect x="1627.20" y="491.55" width="1.60" height="4.50" fill="#000"/>
<rect x="1639.30" y="491.55" width="1.60" height="4.50" fill="#000"/>
<rect x="1651.20" y="491.55" width="1.60" height="8.50" fill="#000"/>
<rect x="1663.30" y="491.55" width="1.60" height="4.50" fill="#000"/>
<rect x="1675.10" y="491.55" width="1.60" height="4.50" fill="#000"/>
<rect x="1688.70" y="491.55" width="1.60" height="4.50" fill="#000"/>
<rect x="1700.90" y="491.55" width="1.60" height="4.50" fill="#000"/>
<rect x="1712.70" y="491.55" width="1.60" height="8.50" fill="#000"/>
<rect x="965.30" y="338.60" width="7.10" height="1.60" fill="#000"/>
<rect x="968.90" y="353.52" width="3.50" height="1.60" fill="#000"/>
<rect x="968.90" y="368.44" width="3.50" height="1.60" fill="#000"/>
<rect x="968.90" y="383.36" width="3.50" height="1.60" fill="#000"/>
<rect x="968.90" y="398.28" width="3.50" height="1.60" fill="#000"/>
<rect x="965.30" y="413.20" width="7.10" height="1.60" fill="#000"/>
<rect x="968.90" y="428.12" width="3.50" height="1.60" fill="#000"/>
<rect x="968.90" y="443.04" width="3.50" height="1.60" fill="#000"/>
<rect x="968.90" y="457.96" width="3.50" height="1.60" fill="#000"/>
<rect x="968.90" y="472.88" width="3.50" height="1.60" fill="#000"/>
<rect x="965.30" y="487.80" width="7.10" height="1.60" fill="#000"/>
<text transform="translate(1077.34,516.40) scale(1.0200,1)" font-size="18.9" fill="#000" stroke="#000" stroke-width="0.22">0.50</text>
<text transform="translate(1200.88,516.40) scale(1.0200,1)" font-size="18.9" fill="#000" stroke="#000" stroke-width="0.22">1.00</text>
<rect x="1201.43" y="513.99" width="4.25" height="3.41" fill="#fff"/>
<rect x="1207.48" y="513.99" width="4.10" height="3.41" fill="#fff"/>
<text transform="translate(1324.28,516.40) scale(1.0200,1)" font-size="18.9" fill="#000" stroke="#000" stroke-width="0.22">1.50</text>
<rect x="1324.83" y="513.99" width="4.25" height="3.41" fill="#fff"/>
<rect x="1330.88" y="513.99" width="4.10" height="3.41" fill="#fff"/>
<text transform="translate(1447.33,516.40) scale(1.0200,1)" font-size="18.9" fill="#000" stroke="#000" stroke-width="0.22">2.00</text>
<text transform="translate(1570.33,516.40) scale(1.0200,1)" font-size="18.9" fill="#000" stroke="#000" stroke-width="0.22">2.50</text>
<text transform="translate(1693.85,516.40) scale(1.0200,1)" font-size="18.9" fill="#000" stroke="#000" stroke-width="0.22">3.00</text>
<text transform="translate(964.80,412.50) rotate(-90) scale(0.86,1)" font-size="19.5" text-anchor="middle" fill="#000" stroke="#000" stroke-width="0.22">%</text>
<text transform="translate(931.67,345.60) scale(0.9947,1)" font-size="18.9" fill="#000" stroke="#000" stroke-width="0.22">100</text>
<rect x="932.20" y="343.19" width="4.14" height="3.41" fill="#fff"/>
<rect x="938.11" y="343.19" width="3.99" height="3.41" fill="#fff"/>
<text transform="translate(952.94,494.60) scale(0.8965,1)" font-size="18.9" fill="#000" stroke="#000" stroke-width="0.22">0</text>
<rect x="971.90" y="568.60" width="2.40" height="153.15" fill="#000"/>
<rect x="971.90" y="719.20" width="742.40" height="2.55" fill="#000"/>
<rect x="985.00" y="721.25" width="1.60" height="4.50" fill="#000"/>
<rect x="997.10" y="721.25" width="1.60" height="4.50" fill="#000"/>
<rect x="1010.30" y="721.25" width="1.60" height="4.50" fill="#000"/>
<rect x="1022.50" y="721.25" width="1.60" height="4.50" fill="#000"/>
<rect x="1034.60" y="721.25" width="1.60" height="8.50" fill="#000"/>
<rect x="1046.80" y="721.25" width="1.60" height="4.50" fill="#000"/>
<rect x="1058.60" y="721.25" width="1.60" height="4.50" fill="#000"/>
<rect x="1071.90" y="721.25" width="1.60" height="4.50" fill="#000"/>
<rect x="1084.00" y="721.25" width="1.60" height="4.50" fill="#000"/>
<rect x="1096.20" y="721.25" width="1.60" height="8.50" fill="#000"/>
<rect x="1108.30" y="721.25" width="1.60" height="4.50" fill="#000"/>
<rect x="1120.40" y="721.25" width="1.60" height="4.50" fill="#000"/>
<rect x="1133.70" y="721.25" width="1.60" height="4.50" fill="#000"/>
<rect x="1145.90" y="721.25" width="1.60" height="4.50" fill="#000"/>
<rect x="1158.00" y="721.25" width="1.60" height="8.50" fill="#000"/>
<rect x="1170.00" y="721.25" width="1.60" height="4.50" fill="#000"/>
<rect x="1181.80" y="721.25" width="1.60" height="4.50" fill="#000"/>
<rect x="1195.20" y="721.25" width="1.60" height="4.50" fill="#000"/>
<rect x="1207.40" y="721.25" width="1.60" height="4.50" fill="#000"/>
<rect x="1219.50" y="721.25" width="1.60" height="8.50" fill="#000"/>
<rect x="1231.70" y="721.25" width="1.60" height="4.50" fill="#000"/>
<rect x="1243.90" y="721.25" width="1.60" height="4.50" fill="#000"/>
<rect x="1257.10" y="721.25" width="1.60" height="4.50" fill="#000"/>
<rect x="1269.30" y="721.25" width="1.60" height="4.50" fill="#000"/>
<rect x="1281.10" y="721.25" width="1.60" height="8.50" fill="#000"/>
<rect x="1293.20" y="721.25" width="1.60" height="4.50" fill="#000"/>
<rect x="1305.10" y="721.25" width="1.60" height="4.50" fill="#000"/>
<rect x="1318.80" y="721.25" width="1.60" height="4.50" fill="#000"/>
<rect x="1330.70" y="721.25" width="1.60" height="4.50" fill="#000"/>
<rect x="1342.90" y="721.25" width="1.60" height="8.50" fill="#000"/>
<rect x="1354.90" y="721.25" width="1.60" height="4.50" fill="#000"/>
<rect x="1367.00" y="721.25" width="1.60" height="4.50" fill="#000"/>
<rect x="1380.30" y="721.25" width="1.60" height="4.50" fill="#000"/>
<rect x="1392.30" y="721.25" width="1.60" height="4.50" fill="#000"/>
<rect x="1404.40" y="721.25" width="1.60" height="8.50" fill="#000"/>
<rect x="1416.60" y="721.25" width="1.60" height="4.50" fill="#000"/>
<rect x="1428.50" y="721.25" width="1.60" height="4.50" fill="#000"/>
<rect x="1442.00" y="721.25" width="1.60" height="4.50" fill="#000"/>
<rect x="1453.90" y="721.25" width="1.60" height="4.50" fill="#000"/>
<rect x="1466.30" y="721.25" width="1.60" height="8.50" fill="#000"/>
<rect x="1478.10" y="721.25" width="1.60" height="4.50" fill="#000"/>
<rect x="1490.30" y="721.25" width="1.60" height="4.50" fill="#000"/>
<rect x="1503.90" y="721.25" width="1.60" height="4.50" fill="#000"/>
<rect x="1515.90" y="721.25" width="1.60" height="4.50" fill="#000"/>
<rect x="1527.80" y="721.25" width="1.60" height="8.50" fill="#000"/>
<rect x="1540.00" y="721.25" width="1.60" height="4.50" fill="#000"/>
<rect x="1551.90" y="721.25" width="1.60" height="4.50" fill="#000"/>
<rect x="1565.40" y="721.25" width="1.60" height="4.50" fill="#000"/>
<rect x="1577.30" y="721.25" width="1.60" height="4.50" fill="#000"/>
<rect x="1589.30" y="721.25" width="1.60" height="8.50" fill="#000"/>
<rect x="1601.50" y="721.25" width="1.60" height="4.50" fill="#000"/>
<rect x="1613.70" y="721.25" width="1.60" height="4.50" fill="#000"/>
<rect x="1627.20" y="721.25" width="1.60" height="4.50" fill="#000"/>
<rect x="1639.30" y="721.25" width="1.60" height="4.50" fill="#000"/>
<rect x="1651.20" y="721.25" width="1.60" height="8.50" fill="#000"/>
<rect x="1663.30" y="721.25" width="1.60" height="4.50" fill="#000"/>
<rect x="1675.10" y="721.25" width="1.60" height="4.50" fill="#000"/>
<rect x="1688.70" y="721.25" width="1.60" height="4.50" fill="#000"/>
<rect x="1700.90" y="721.25" width="1.60" height="4.50" fill="#000"/>
<rect x="1712.70" y="721.25" width="1.60" height="8.50" fill="#000"/>
<rect x="965.30" y="568.60" width="7.10" height="1.60" fill="#000"/>
<rect x="968.90" y="583.49" width="3.50" height="1.60" fill="#000"/>
<rect x="968.90" y="598.38" width="3.50" height="1.60" fill="#000"/>
<rect x="968.90" y="613.27" width="3.50" height="1.60" fill="#000"/>
<rect x="968.90" y="628.16" width="3.50" height="1.60" fill="#000"/>
<rect x="965.30" y="643.05" width="7.10" height="1.60" fill="#000"/>
<rect x="968.90" y="657.94" width="3.50" height="1.60" fill="#000"/>
<rect x="968.90" y="672.83" width="3.50" height="1.60" fill="#000"/>
<rect x="968.90" y="687.72" width="3.50" height="1.60" fill="#000"/>
<rect x="968.90" y="702.61" width="3.50" height="1.60" fill="#000"/>
<rect x="965.30" y="717.50" width="7.10" height="1.60" fill="#000"/>
<text transform="translate(1077.34,746.10) scale(1.0200,1)" font-size="18.9" fill="#000" stroke="#000" stroke-width="0.22">0.50</text>
<text transform="translate(1200.88,746.10) scale(1.0200,1)" font-size="18.9" fill="#000" stroke="#000" stroke-width="0.22">1.00</text>
<rect x="1201.43" y="743.69" width="4.25" height="3.41" fill="#fff"/>
<rect x="1207.48" y="743.69" width="4.10" height="3.41" fill="#fff"/>
<text transform="translate(1324.28,746.10) scale(1.0200,1)" font-size="18.9" fill="#000" stroke="#000" stroke-width="0.22">1.50</text>
<rect x="1324.83" y="743.69" width="4.25" height="3.41" fill="#fff"/>
<rect x="1330.88" y="743.69" width="4.10" height="3.41" fill="#fff"/>
<text transform="translate(1447.33,746.10) scale(1.0200,1)" font-size="18.9" fill="#000" stroke="#000" stroke-width="0.22">2.00</text>
<text transform="translate(1570.33,746.10) scale(1.0200,1)" font-size="18.9" fill="#000" stroke="#000" stroke-width="0.22">2.50</text>
<text transform="translate(1693.85,746.10) scale(1.0200,1)" font-size="18.9" fill="#000" stroke="#000" stroke-width="0.22">3.00</text>
<text transform="translate(964.80,642.50) rotate(-90) scale(0.86,1)" font-size="19.5" text-anchor="middle" fill="#000" stroke="#000" stroke-width="0.22">%</text>
<text transform="translate(931.67,575.60) scale(0.9947,1)" font-size="18.9" fill="#000" stroke="#000" stroke-width="0.22">100</text>
<rect x="932.20" y="573.19" width="4.14" height="3.41" fill="#fff"/>
<rect x="938.11" y="573.19" width="3.99" height="3.41" fill="#fff"/>
<text transform="translate(952.94,724.30) scale(0.8965,1)" font-size="18.9" fill="#000" stroke="#000" stroke-width="0.22">0</text>
<rect x="971.90" y="797.60" width="2.40" height="153.75" fill="#000"/>
<rect x="971.90" y="948.80" width="742.40" height="2.55" fill="#000"/>
<rect x="985.00" y="950.85" width="1.60" height="4.50" fill="#000"/>
<rect x="997.10" y="950.85" width="1.60" height="4.50" fill="#000"/>
<rect x="1010.30" y="950.85" width="1.60" height="4.50" fill="#000"/>
<rect x="1022.50" y="950.85" width="1.60" height="4.50" fill="#000"/>
<rect x="1034.60" y="950.85" width="1.60" height="8.50" fill="#000"/>
<rect x="1046.80" y="950.85" width="1.60" height="4.50" fill="#000"/>
<rect x="1058.60" y="950.85" width="1.60" height="4.50" fill="#000"/>
<rect x="1071.90" y="950.85" width="1.60" height="4.50" fill="#000"/>
<rect x="1084.00" y="950.85" width="1.60" height="4.50" fill="#000"/>
<rect x="1096.20" y="950.85" width="1.60" height="8.50" fill="#000"/>
<rect x="1108.30" y="950.85" width="1.60" height="4.50" fill="#000"/>
<rect x="1120.40" y="950.85" width="1.60" height="4.50" fill="#000"/>
<rect x="1133.70" y="950.85" width="1.60" height="4.50" fill="#000"/>
<rect x="1145.90" y="950.85" width="1.60" height="4.50" fill="#000"/>
<rect x="1158.00" y="950.85" width="1.60" height="8.50" fill="#000"/>
<rect x="1170.00" y="950.85" width="1.60" height="4.50" fill="#000"/>
<rect x="1181.80" y="950.85" width="1.60" height="4.50" fill="#000"/>
<rect x="1195.20" y="950.85" width="1.60" height="4.50" fill="#000"/>
<rect x="1207.40" y="950.85" width="1.60" height="4.50" fill="#000"/>
<rect x="1219.50" y="950.85" width="1.60" height="8.50" fill="#000"/>
<rect x="1231.70" y="950.85" width="1.60" height="4.50" fill="#000"/>
<rect x="1243.90" y="950.85" width="1.60" height="4.50" fill="#000"/>
<rect x="1257.10" y="950.85" width="1.60" height="4.50" fill="#000"/>
<rect x="1269.30" y="950.85" width="1.60" height="4.50" fill="#000"/>
<rect x="1281.10" y="950.85" width="1.60" height="8.50" fill="#000"/>
<rect x="1293.20" y="950.85" width="1.60" height="4.50" fill="#000"/>
<rect x="1305.10" y="950.85" width="1.60" height="4.50" fill="#000"/>
<rect x="1318.80" y="950.85" width="1.60" height="4.50" fill="#000"/>
<rect x="1330.70" y="950.85" width="1.60" height="4.50" fill="#000"/>
<rect x="1342.90" y="950.85" width="1.60" height="8.50" fill="#000"/>
<rect x="1354.90" y="950.85" width="1.60" height="4.50" fill="#000"/>
<rect x="1367.00" y="950.85" width="1.60" height="4.50" fill="#000"/>
<rect x="1380.30" y="950.85" width="1.60" height="4.50" fill="#000"/>
<rect x="1392.30" y="950.85" width="1.60" height="4.50" fill="#000"/>
<rect x="1404.40" y="950.85" width="1.60" height="8.50" fill="#000"/>
<rect x="1416.60" y="950.85" width="1.60" height="4.50" fill="#000"/>
<rect x="1428.50" y="950.85" width="1.60" height="4.50" fill="#000"/>
<rect x="1442.00" y="950.85" width="1.60" height="4.50" fill="#000"/>
<rect x="1453.90" y="950.85" width="1.60" height="4.50" fill="#000"/>
<rect x="1466.30" y="950.85" width="1.60" height="8.50" fill="#000"/>
<rect x="1478.10" y="950.85" width="1.60" height="4.50" fill="#000"/>
<rect x="1490.30" y="950.85" width="1.60" height="4.50" fill="#000"/>
<rect x="1503.90" y="950.85" width="1.60" height="4.50" fill="#000"/>
<rect x="1515.90" y="950.85" width="1.60" height="4.50" fill="#000"/>
<rect x="1527.80" y="950.85" width="1.60" height="8.50" fill="#000"/>
<rect x="1540.00" y="950.85" width="1.60" height="4.50" fill="#000"/>
<rect x="1551.90" y="950.85" width="1.60" height="4.50" fill="#000"/>
<rect x="1565.40" y="950.85" width="1.60" height="4.50" fill="#000"/>
<rect x="1577.30" y="950.85" width="1.60" height="4.50" fill="#000"/>
<rect x="1589.30" y="950.85" width="1.60" height="8.50" fill="#000"/>
<rect x="1601.50" y="950.85" width="1.60" height="4.50" fill="#000"/>
<rect x="1613.70" y="950.85" width="1.60" height="4.50" fill="#000"/>
<rect x="1627.20" y="950.85" width="1.60" height="4.50" fill="#000"/>
<rect x="1639.30" y="950.85" width="1.60" height="4.50" fill="#000"/>
<rect x="1651.20" y="950.85" width="1.60" height="8.50" fill="#000"/>
<rect x="1663.30" y="950.85" width="1.60" height="4.50" fill="#000"/>
<rect x="1675.10" y="950.85" width="1.60" height="4.50" fill="#000"/>
<rect x="1688.70" y="950.85" width="1.60" height="4.50" fill="#000"/>
<rect x="1700.90" y="950.85" width="1.60" height="4.50" fill="#000"/>
<rect x="1712.70" y="950.85" width="1.60" height="8.50" fill="#000"/>
<rect x="965.30" y="797.60" width="7.10" height="1.60" fill="#000"/>
<rect x="968.90" y="813.00" width="3.50" height="1.60" fill="#000"/>
<rect x="968.90" y="826.70" width="3.50" height="1.60" fill="#000"/>
<rect x="968.90" y="842.60" width="3.50" height="1.60" fill="#000"/>
<rect x="968.90" y="857.00" width="3.50" height="1.60" fill="#000"/>
<rect x="965.30" y="872.30" width="7.10" height="1.60" fill="#000"/>
<rect x="968.90" y="887.60" width="3.50" height="1.60" fill="#000"/>
<rect x="968.90" y="903.00" width="3.50" height="1.60" fill="#000"/>
<rect x="968.90" y="917.90" width="3.50" height="1.60" fill="#000"/>
<rect x="968.90" y="932.60" width="3.50" height="1.60" fill="#000"/>
<rect x="965.30" y="947.10" width="7.10" height="1.60" fill="#000"/>
<text transform="translate(1077.34,975.70) scale(1.0200,1)" font-size="18.9" fill="#000" stroke="#000" stroke-width="0.22">0.50</text>
<text transform="translate(1200.88,975.70) scale(1.0200,1)" font-size="18.9" fill="#000" stroke="#000" stroke-width="0.22">1.00</text>
<rect x="1201.43" y="973.29" width="4.25" height="3.41" fill="#fff"/>
<rect x="1207.48" y="973.29" width="4.10" height="3.41" fill="#fff"/>
<text transform="translate(1324.28,975.70) scale(1.0200,1)" font-size="18.9" fill="#000" stroke="#000" stroke-width="0.22">1.50</text>
<rect x="1324.83" y="973.29" width="4.25" height="3.41" fill="#fff"/>
<rect x="1330.88" y="973.29" width="4.10" height="3.41" fill="#fff"/>
<text transform="translate(1447.33,975.70) scale(1.0200,1)" font-size="18.9" fill="#000" stroke="#000" stroke-width="0.22">2.00</text>
<text transform="translate(1570.33,975.70) scale(1.0200,1)" font-size="18.9" fill="#000" stroke="#000" stroke-width="0.22">2.50</text>
<text transform="translate(1693.85,975.70) scale(1.0200,1)" font-size="18.9" fill="#000" stroke="#000" stroke-width="0.22">3.00</text>
<text transform="translate(964.80,871.50) rotate(-90) scale(0.86,1)" font-size="19.5" text-anchor="middle" fill="#000" stroke="#000" stroke-width="0.22">%</text>
<text transform="translate(931.67,804.60) scale(0.9947,1)" font-size="18.9" fill="#000" stroke="#000" stroke-width="0.22">100</text>
<rect x="932.20" y="802.19" width="4.14" height="3.41" fill="#fff"/>
<rect x="938.11" y="802.19" width="3.99" height="3.41" fill="#fff"/>
<text transform="translate(952.94,953.90) scale(0.8965,1)" font-size="18.9" fill="#000" stroke="#000" stroke-width="0.22">0</text>
<text transform="translate(1557.07,80.50) scale(0.9896,1)" font-size="18.9" fill="#000" stroke="#000" stroke-width="0.22">MRM of 3 Channels ES+</text>
<text transform="translate(1481.17,101.60) scale(1.0124,1)" font-size="18.9" fill="#000" stroke="#000" stroke-width="0.22">347.08 &gt; 205.06 (vonoprazan M1)</text>
<rect x="1753.52" y="99.19" width="4.21" height="3.41" fill="#fff"/>
<rect x="1759.53" y="99.19" width="4.07" height="3.41" fill="#fff"/>
<text transform="translate(1710.06,122.90) scale(1.0215,1)" font-size="18.9" fill="#000" stroke="#000" stroke-width="0.22">8.41e5</text>
<rect x="1737.45" y="120.49" width="4.25" height="3.41" fill="#fff"/>
<rect x="1743.51" y="120.49" width="4.10" height="3.41" fill="#fff"/>
<text transform="translate(1320.30,104.80) scale(0.9042,1)" font-size="18.9" fill="#000" stroke="#000" stroke-width="0.22">1.47</text>
<rect x="1320.79" y="102.39" width="3.76" height="3.41" fill="#fff"/>
<rect x="1326.15" y="102.39" width="3.63" height="3.41" fill="#fff"/>
<text transform="translate(1280.47,238.00) scale(0.8570,1)" font-size="18.9" fill="#000" stroke="#000" stroke-width="0.22">1.31</text>
<rect x="1280.93" y="235.59" width="3.57" height="3.41" fill="#fff"/>
<rect x="1286.01" y="235.59" width="3.44" height="3.41" fill="#fff"/>
<rect x="1303.45" y="235.59" width="3.57" height="3.41" fill="#fff"/>
<rect x="1308.53" y="235.59" width="3.44" height="3.41" fill="#fff"/>
<text transform="translate(1557.07,310.50) scale(0.9896,1)" font-size="18.9" fill="#7a2886" stroke="#7a2886" stroke-width="0.22">MRM of 3 Channels ES+</text>
<text transform="translate(1506.77,331.60) scale(1.0162,1)" font-size="18.9" fill="#7a2886" stroke="#7a2886" stroke-width="0.22">346.04 &gt; 314.97 (vonoprazan )</text>
<rect x="1598.63" y="329.19" width="4.23" height="3.41" fill="#fff"/>
<rect x="1604.66" y="329.19" width="4.08" height="3.41" fill="#fff"/>
<text transform="translate(1710.44,352.90) scale(1.0149,1)" font-size="18.9" fill="#7a2886" stroke="#7a2886" stroke-width="0.22">1.66e5</text>
<rect x="1710.99" y="350.49" width="4.22" height="3.41" fill="#fff"/>
<rect x="1717.01" y="350.49" width="4.08" height="3.41" fill="#fff"/>
<text transform="translate(1290.03,334.70) scale(0.8827,1)" font-size="18.9" fill="#000" stroke="#000" stroke-width="0.22">1.35</text>
<rect x="1290.51" y="332.29" width="3.67" height="3.41" fill="#fff"/>
<rect x="1295.74" y="332.29" width="3.54" height="3.41" fill="#fff"/>
<text transform="translate(1557.07,540.50) scale(0.9896,1)" font-size="18.9" fill="#528248" stroke="#528248" stroke-width="0.22">MRM of 3 Channels ES+</text>
<text transform="translate(1552.04,561.60) scale(1.0094,1)" font-size="18.9" fill="#528248" stroke="#528248" stroke-width="0.22">285.1 &gt; 193.1 (diazepam)</text>
<rect x="1589.71" y="559.19" width="4.20" height="3.41" fill="#fff"/>
<rect x="1595.70" y="559.19" width="4.05" height="3.41" fill="#fff"/>
<rect x="1622.07" y="559.19" width="4.20" height="3.41" fill="#fff"/>
<rect x="1628.05" y="559.19" width="4.05" height="3.41" fill="#fff"/>
<rect x="1659.20" y="559.19" width="4.20" height="3.41" fill="#fff"/>
<rect x="1665.18" y="559.19" width="4.05" height="3.41" fill="#fff"/>
<text transform="translate(1710.44,582.90) scale(1.0155,1)" font-size="18.9" fill="#528248" stroke="#528248" stroke-width="0.22">1.40e6</text>
<rect x="1710.99" y="580.49" width="4.23" height="3.41" fill="#fff"/>
<rect x="1717.01" y="580.49" width="4.08" height="3.41" fill="#fff"/>
<text transform="translate(1381.98,564.40) scale(0.9187,1)" font-size="18.9" fill="#000" stroke="#000" stroke-width="0.22">1.72</text>
<rect x="1382.47" y="561.99" width="3.82" height="3.41" fill="#fff"/>
<rect x="1387.92" y="561.99" width="3.69" height="3.41" fill="#fff"/>
<text transform="translate(1557.07,769.90) scale(0.9896,1)" font-size="18.9" fill="#d2313a" stroke="#d2313a" stroke-width="0.22">MRM of 3 Channels ES+</text>
<text transform="translate(1740.91,791.20) scale(0.9215,1)" font-size="18.9" fill="#d2313a" stroke="#d2313a" stroke-width="0.22">TIC</text>
<text transform="translate(1710.44,812.60) scale(1.0155,1)" font-size="18.9" fill="#d2313a" stroke="#d2313a" stroke-width="0.22">1.40e6</text>
<rect x="1710.99" y="810.19" width="4.23" height="3.41" fill="#fff"/>
<rect x="1717.01" y="810.19" width="4.08" height="3.41" fill="#fff"/>
<text transform="translate(1382.19,794.70) scale(0.9071,1)" font-size="18.9" fill="#000" stroke="#000" stroke-width="0.22">1.72</text>
<rect x="1382.68" y="792.29" width="3.78" height="3.41" fill="#fff"/>
<rect x="1388.07" y="792.29" width="3.64" height="3.41" fill="#fff"/>
<text transform="translate(1320.59,853.30) scale(0.9071,1)" font-size="18.9" fill="#000" stroke="#000" stroke-width="0.22">1.47</text>
<rect x="1321.08" y="850.89" width="3.78" height="3.41" fill="#fff"/>
<rect x="1326.47" y="850.89" width="3.64" height="3.41" fill="#fff"/>
<text transform="translate(1289.51,924.40) scale(0.8972,1)" font-size="18.9" fill="#000" stroke="#000" stroke-width="0.22">1.35</text>
<rect x="1289.99" y="921.99" width="3.74" height="3.41" fill="#fff"/>
<rect x="1295.32" y="921.99" width="3.60" height="3.41" fill="#fff"/>
<text transform="translate(1721.08,956.80) scale(0.9918,1)" font-size="18.9" fill="#000" stroke="#000" stroke-width="0.22">Time</text>
<rect x="976.00" y="257.80" width="737.60" height="2.20" fill="#000"/>
<rect x="976.00" y="487.60" width="737.60" height="2.20" fill="#601470"/>
<rect x="976.00" y="717.30" width="737.60" height="2.20" fill="#358035"/>
<rect x="976.00" y="946.90" width="737.60" height="2.20" fill="#d01e1e"/>
<polyline points="976.00,258.80 1289.30,258.80 1296.60,242.40 1299.60,250.90 1302.00,254.50 1304.20,256.40 1306.00,257.60 1307.90,258.20 1309.00,258.80 1326.50,258.80 1327.20,257.80 1328.60,244.40 1330.40,243.50 1330.40,221.00 1331.80,219.60 1331.80,188.70 1332.80,187.40 1332.80,158.10 1334.10,157.10 1334.10,131.00 1335.70,130.00 1335.70,114.70 1336.90,109.50 1337.40,123.30 1338.20,124.40 1338.20,156.60 1339.60,158.10 1339.60,193.80 1341.00,194.30 1341.00,218.70 1342.40,219.50 1342.40,234.30 1343.80,236.00 1343.80,243.50 1345.60,249.00 1348.40,253.20 1352.00,255.90 1355.70,256.90 1362.60,257.30 1363.50,258.80 1713.60,258.80" fill="none" stroke="#000" stroke-width="1.35" stroke-linejoin="miter" stroke-miterlimit="2" stroke-linecap="butt"/>
<polyline points="976.00,488.60 1296.00,488.60 1296.70,488.10 1298.20,482.70 1299.40,480.80 1299.40,471.10 1301.10,470.10 1301.10,446.80 1302.30,445.80 1302.30,410.30 1303.50,409.60 1303.50,371.20 1305.10,370.20 1305.10,345.70 1306.10,339.50 1307.60,352.30 1307.60,384.50 1308.90,385.00 1308.90,421.50 1309.80,422.50 1309.80,446.80 1311.30,447.70 1311.30,460.40 1312.70,462.30 1312.70,469.60 1314.70,475.00 1316.60,479.80 1319.50,481.80 1323.40,485.20 1326.30,487.10 1327.80,485.60 1329.30,487.10 1347.70,487.10 1349.70,488.60 1352.60,487.10 1354.50,488.10 1356.00,486.60 1357.00,488.60 1713.60,488.60" fill="none" stroke="#601470" stroke-width="1.35" stroke-linejoin="miter" stroke-miterlimit="2" stroke-linecap="butt"/>
<polyline points="976.00,718.30 1390.00,718.30 1390.60,718.10 1392.10,713.70 1392.10,697.20 1393.30,695.70 1393.30,652.50 1394.80,651.00 1394.80,612.00 1396.00,611.00 1396.00,588.00 1397.60,586.40 1397.60,573.10 1398.70,569.20 1400.10,575.20 1400.10,597.70 1401.40,598.70 1401.40,631.40 1402.70,632.40 1402.70,660.70 1404.20,661.70 1404.20,682.60 1405.50,683.60 1405.50,696.20 1407.10,703.00 1409.10,710.80 1411.50,714.20 1414.40,716.60 1421.20,717.10 1422.20,718.30 1713.60,718.30" fill="none" stroke="#358035" stroke-width="1.35" stroke-linejoin="miter" stroke-miterlimit="2" stroke-linecap="butt"/>
<polyline points="976.00,947.90 1290.50,947.90 1294.50,940.10 1296.50,938.10 1299.60,941.10 1302.60,934.60 1306.10,929.10 1308.10,933.10 1310.10,940.10 1312.10,944.20 1316.10,946.00 1322.60,946.70 1324.60,948.00 1327.10,947.70 1328.10,944.20 1330.10,926.10 1331.30,906.10 1332.90,887.00 1334.10,871.00 1336.10,861.00 1336.80,857.80 1337.30,866.00 1338.90,887.00 1340.10,909.10 1341.30,925.10 1343.10,936.10 1346.10,942.10 1350.10,945.40 1355.20,946.40 1358.70,947.70 1360.20,946.40 1361.00,947.90 1390.70,947.90 1391.70,926.10 1393.00,882.50 1394.50,881.00 1394.50,840.60 1395.80,839.60 1395.80,817.70 1397.60,816.80 1397.60,802.70 1398.50,798.50 1400.00,805.10 1400.00,828.00 1401.30,828.40 1401.30,860.00 1402.60,861.00 1403.00,890.10 1404.20,912.10 1405.70,928.10 1407.70,937.10 1411.30,943.10 1415.30,946.20 1424.30,946.40 1425.30,947.90 1713.60,947.90" fill="none" stroke="#d01e1e" stroke-width="1.35" stroke-linejoin="miter" stroke-miterlimit="2" stroke-linecap="butt"/>
</svg>
</body></html>
